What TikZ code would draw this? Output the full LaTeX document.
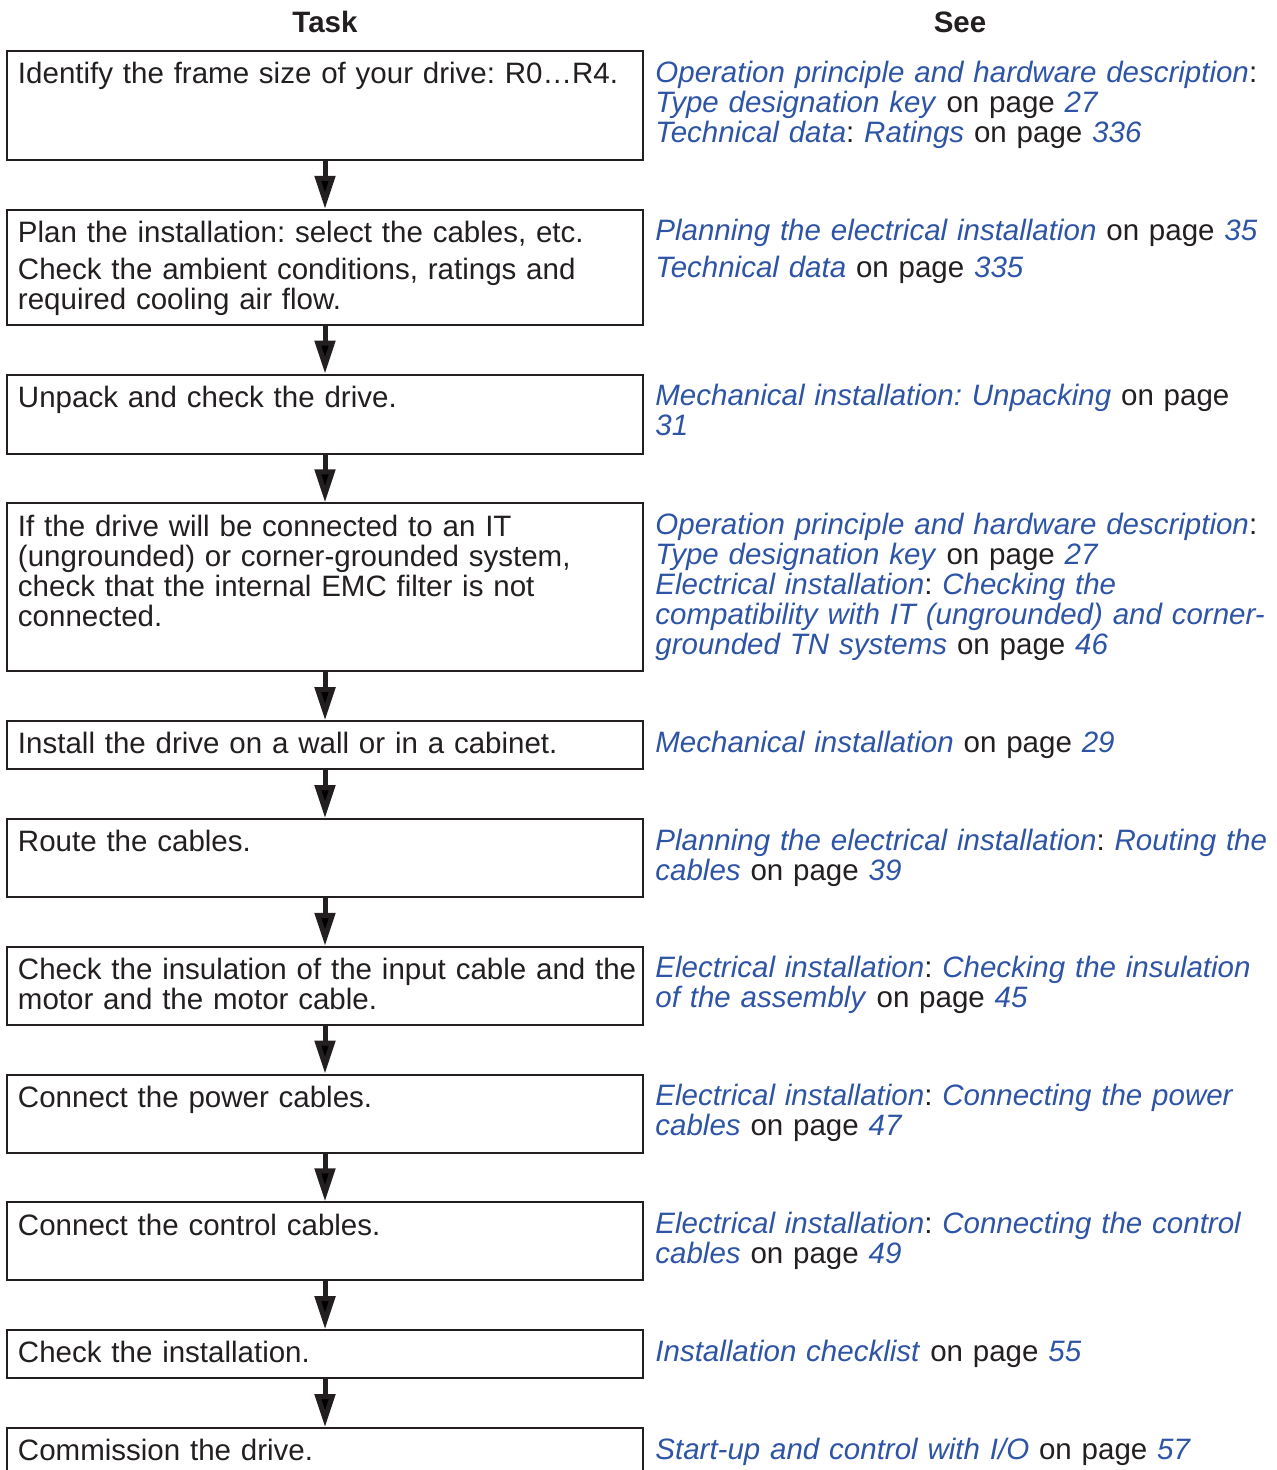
\documentclass[tikz,border=0pt]{standalone}
\usepackage{fontspec}
\setmainfont{Liberation Sans}
\usetikzlibrary{positioning,arrows.meta}

\definecolor{linkblue}{RGB}{46,84,166}
\definecolor{ink}{RGB}{35,31,32}
\newcommand{\lnk}[1]{\textcolor{linkblue}{\textit{#1}}}
\frenchspacing

\tikzset{
  task/.style={draw=ink, line width=1pt, text=ink,
    font=\fontsize{14.75pt}{15pt}\selectfont,
    text width=307pt, align=left, inner xsep=5.5pt, inner ysep=6pt,
    text height=10.35pt, text depth=#1},
  see/.style={anchor=north west, text=ink,
    font=\fontsize{14.75pt}{15pt}\selectfont,
    text width=330pt, align=left, inner xsep=5.5pt, inner ysep=5.5pt,
    text height=10.35pt},
  head/.style={anchor=base, text=ink, font=\bfseries\fontsize{14.75pt}{15pt}\selectfont},
  flow/.style={draw=ink, line width=2.5pt, -{Triangle[width=10pt,length=16.5pt]}}
}

\begin{document}
\begin{tikzpicture}[node distance=23.9pt]
  \useasboundingbox (0,0) rectangle (638pt,-735pt);

  \node (task) [head] at (162.5pt,-16.5pt) {Task};
  \node (see) [head] at (480pt,-16.5pt) {See};

  % task column
  \node (t1) [task=32.15pt, anchor=north] at (162.5pt,-25pt)
    {Identify the frame size of your drive: R0…R4.};
  \node (t2) [task=35.15pt, below=of t1]
    {Plan the installation: select the cables, etc.\\[3.5pt]
     Check the ambient conditions, ratings and\\
     required cooling air flow.};
  \node (t3) [task=17.15pt, below=of t2] {Unpack and check the drive.};
  \node (t4) [task=61.65pt, below=of t3]
    {If the drive will be connected to an IT\\
     (ungrounded) or corner-grounded system,\\
     check that the internal EMC filter is not\\
     connected.};
  \node (t5) [task=1.65pt, below=of t4] {Install the drive on a wall or in a cabinet.};
  \node (t6) [task=16.65pt, below=of t5] {Route the cables.};
  \node (t7) [task=16.65pt, below=of t6]
    {\mbox{Check the insulation of the input cable and the}\\
     motor and the motor cable.};
  \node (t8) [task=16.65pt, below=of t7] {Connect the power cables.};
  \node (t9) [task=16.65pt, below=of t8] {Connect the control cables.};
  \node (t10) [task=1.65pt, below=of t9] {Check the installation.};
  \node (t11) [task=16.65pt, below=of t10] {Commission the drive.};

  % see column
  \node (s1) [see] at (t1.north east)
    {\lnk{Operation principle and hardware description}:\\
     \lnk{Type designation key} on page \lnk{27}\\
     \lnk{Technical data}: \lnk{Ratings} on page \lnk{336}};
  \node (s2) [see] at (t2.north east)
    {\lnk{Planning the electrical installation} on page \lnk{35}\\[3.5pt]
     \lnk{Technical data} on page \lnk{335}};
  \node (s3) [see] at (t3.north east)
    {\lnk{Mechanical installation: Unpacking} on page\\
     \lnk{31}};
  \node (s4) [see] at (t4.north east)
    {\lnk{Operation principle and hardware description}:\\
     \lnk{Type designation key} on page \lnk{27}\\
     \lnk{Electrical installation}: \lnk{Checking the}\\
     \lnk{compatibility with IT (ungrounded) and corner-}\\
     \lnk{grounded TN systems} on page \lnk{46}};
  \node (s5) [see] at (t5.north east)
    {\lnk{Mechanical installation} on page \lnk{29}};
  \node (s6) [see] at (t6.north east)
    {\lnk{Planning the electrical installation}: \lnk{Routing the}\\
     \lnk{cables} on page \lnk{39}};
  \node (s7) [see] at (t7.north east)
    {\lnk{Electrical installation}: \lnk{Checking the insulation}\\
     \lnk{of the assembly} on page \lnk{45}};
  \node (s8) [see] at (t8.north east)
    {\lnk{Electrical installation}: \lnk{Connecting the power}\\
     \lnk{cables} on page \lnk{47}};
  \node (s9) [see] at (t9.north east)
    {\lnk{Electrical installation}: \lnk{Connecting the control}\\
     \lnk{cables} on page \lnk{49}};
  \node (s10) [see] at (t10.north east)
    {\lnk{Installation checklist} on page \lnk{55}};
  \node (s11) [see] at (t11.north east)
    {\lnk{Start-up and control with I/O} on page \lnk{57}};

  \path[flow] (t1) edge (t2)
              (t2) edge (t3)
              (t3) edge (t4)
              (t4) edge (t5)
              (t5) edge (t6)
              (t6) edge (t7)
              (t7) edge (t8)
              (t8) edge (t9)
              (t9) edge (t10)
              (t10) edge (t11);
\end{tikzpicture}
\end{document}
